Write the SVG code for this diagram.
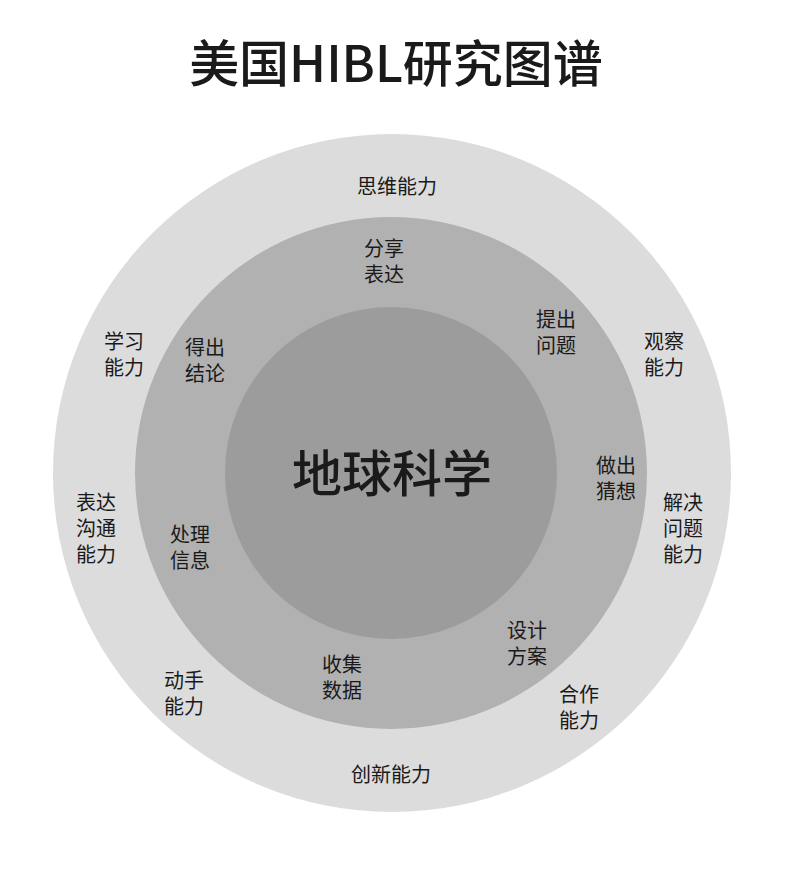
<svg xmlns="http://www.w3.org/2000/svg" width="790" height="877" viewBox="0 0 790 877">
<style>
text{font-family:"Noto Sans CJK SC","Noto Sans",sans-serif;fill:#1a1a1a;text-anchor:middle}
.l{font-size:20px}
.t{font-size:50px;font-weight:500}
.c{font-size:50px;font-weight:500}
</style>
<rect width="790" height="877" fill="#ffffff"/>
<text class="t" x="396" y="82">美国HIBL研究图谱</text>
<g id="outer"><circle cx="392" cy="473" r="339" fill="#dcdcdc"/></g>
<g id="middle"><circle cx="391" cy="473" r="256" fill="#b1b1b1"/></g>
<g id="inner"><circle cx="391" cy="473" r="166" fill="#9c9c9c"/>
<text class="c" x="392" y="492">地球科学</text></g>
<g id="connectors"></g>
<g id="n-siwei"><text class="l" x="397" y="194">思维能力</text></g>
<g id="n-guancha"><text class="l" x="664" y="349">观察</text><text class="l" x="664" y="375">能力</text></g>
<g id="n-jiejue"><text class="l" x="683" y="510">解决</text><text class="l" x="683" y="536">问题</text><text class="l" x="683" y="562">能力</text></g>
<g id="n-hezuo"><text class="l" x="579" y="702">合作</text><text class="l" x="579" y="728">能力</text></g>
<g id="n-chuangxin"><text class="l" x="391" y="782">创新能力</text></g>
<g id="n-dongshou"><text class="l" x="184" y="688">动手</text><text class="l" x="184" y="714">能力</text></g>
<g id="n-biaoda"><text class="l" x="96" y="510">表达</text><text class="l" x="96" y="536">沟通</text><text class="l" x="96" y="562">能力</text></g>
<g id="n-xuexi"><text class="l" x="124" y="349">学习</text><text class="l" x="124" y="375">能力</text></g>
<g id="n-fenxiang"><text class="l" x="384" y="256">分享</text><text class="l" x="384" y="282">表达</text></g>
<g id="n-tichu"><text class="l" x="556" y="327">提出</text><text class="l" x="556" y="353">问题</text></g>
<g id="n-zuochu"><text class="l" x="616" y="473">做出</text><text class="l" x="616" y="499">猜想</text></g>
<g id="n-sheji"><text class="l" x="527" y="638">设计</text><text class="l" x="527" y="664">方案</text></g>
<g id="n-shouji"><text class="l" x="342" y="672">收集</text><text class="l" x="342" y="698">数据</text></g>
<g id="n-chuli"><text class="l" x="190" y="542">处理</text><text class="l" x="190" y="568">信息</text></g>
<g id="n-dechu"><text class="l" x="205" y="355">得出</text><text class="l" x="205" y="381">结论</text></g>
</svg>
